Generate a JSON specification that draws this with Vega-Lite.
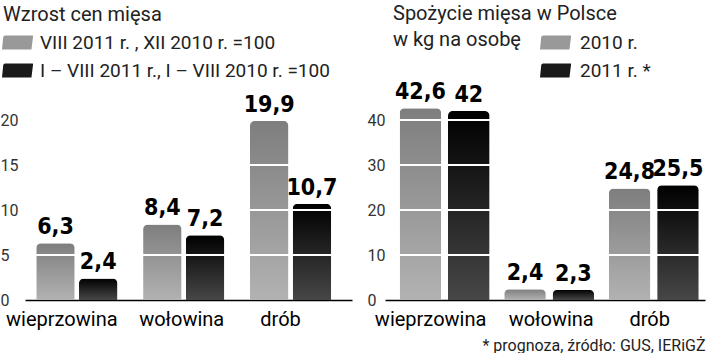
{
  "$schema": "https://vega.github.io/schema/vega-lite/v6.json",
  "padding": {"top": 4, "left": 0, "right": 0, "bottom": 0},
  "spacing": 33,
  "bounds": "flush",
  "config": {
    "view": {"stroke": null},
    "font": "Roboto",
    "locale": {"number": {"decimal": ",", "thousands": " ", "grouping": [3], "currency": ["", " zł"]}}
  },
  "resolve": {"scale": {"color": "independent", "y": "independent", "x": "independent", "xOffset": "independent"}, "legend": {"color": "independent"}},
  "hconcat": [
    {
      "width": 327,
      "height": 180,
      "title": {"text": "Wzrost cen mięsa", "anchor": "start", "frame": "group", "dx": -22, "offset": 2, "fontSize": 20, "fontWeight": "normal", "color": "#222", "font": "Roboto"},
      "data": {"values": [
        {"cat": "wieprzowina", "series": "VIII 2011 r. , XII 2010 r. =100", "v": 6.3},
        {"cat": "wieprzowina", "series": "I – VIII 2011 r., I – VIII 2010 r. =100", "v": 2.4},
        {"cat": "wołowina", "series": "VIII 2011 r. , XII 2010 r. =100", "v": 8.4},
        {"cat": "wołowina", "series": "I – VIII 2011 r., I – VIII 2010 r. =100", "v": 7.2},
        {"cat": "drób", "series": "VIII 2011 r. , XII 2010 r. =100", "v": 19.9},
        {"cat": "drób", "series": "I – VIII 2011 r., I – VIII 2010 r. =100", "v": 10.7}
      ]},
      "encoding": {
        "x": {"field": "cat", "type": "nominal", "sort": ["wieprzowina", "wołowina", "drób"],
          "scale": {"paddingInner": 0.24, "paddingOuter": 0.15, "align": 0.35},
          "axis": {"title": null, "labelAngle": 0, "labelFontSize": 20, "labelColor": "#000", "labelFont": "Roboto", "ticks": false, "domainColor": "#000", "domainWidth": 1.5, "labelPadding": 9,
            "labelOffset": {"condition": [{"test": "datum.value === 'wieprzowina'", "value": -15}, {"test": "datum.value === 'drób'", "value": -10}], "value": -2}}},
        "xOffset": {"field": "series", "type": "nominal", "sort": ["VIII 2011 r. , XII 2010 r. =100", "I – VIII 2011 r., I – VIII 2010 r. =100"], "scale": {"paddingInner": 0.1}},
        "y": {"field": "v", "type": "quantitative", "scale": {"domain": [0, 20], "nice": false},
          "axis": {"values": [0, 5, 10, 15, 20], "title": null, "domain": false, "ticks": false, "grid": false, "labelAlign": "left", "labelPadding": 25, "labelFontSize": 16, "labelColor": "#333", "labelFont": "Roboto"}}
      },
      "layer": [
        {
          "mark": {"type": "bar", "opacity": 0},
          "encoding": {
            "color": {"field": "series", "type": "nominal",
              "scale": {"domain": ["VIII 2011 r. , XII 2010 r. =100", "I – VIII 2011 r., I – VIII 2010 r. =100"], "range": ["#999999", "#1a1a1a"]},
              "legend": {"title": null, "orient": "none", "legendX": -23, "legendY": -93, "direction": "vertical", "symbolOpacity": 1,
                "symbolType": "M-0.88,-0.45 L0.98,-0.45 Q1.02,-0.45 1,-0.35 L0.9,0.45 L-1,0.45 L-0.92,-0.35 Q-0.9,-0.45 -0.8,-0.45 Z",
                "symbolSize": 961, "symbolStrokeWidth": 0, "labelFontSize": 19, "labelColor": "#222", "labelFont": "Roboto", "labelOffset": 7, "rowPadding": 2, "labelLimit": 400}}
          }
        },
        {
          "mark": {"type": "bar", "cornerRadiusTopLeft": 5, "cornerRadiusTopRight": 5},
          "encoding": {
            "fill": {"condition": {"test": "datum.series === 'VIII 2011 r. , XII 2010 r. =100'",
              "value": {"gradient": "linear", "x1": 0, "y1": 1, "x2": 0, "y2": 0, "stops": [{"offset": 0, "color": "#b2b2b2"}, {"offset": 1, "color": "#7e7e7e"}]}},
              "value": {"gradient": "linear", "x1": 0, "y1": 1, "x2": 0, "y2": 0, "stops": [{"offset": 0, "color": "#474747"}, {"offset": 1, "color": "#000000"}]}}
          }
        },
        {
          "data": {"values": [{"g": 5}, {"g": 10}, {"g": 15}, {"g": 20}]},
          "mark": {"type": "rule", "color": "#ffffff", "strokeWidth": 2},
          "encoding": {"y": {"field": "g", "type": "quantitative"}, "x": null, "xOffset": null}
        },
        {
          "mark": {"type": "text", "font": "Liberation Sans Narrow, DejaVu Sans Condensed", "fontWeight": "bold", "fontSize": 23, "dy": -9, "baseline": "alphabetic", "color": "#000"},
          "encoding": {"text": {"field": "v", "type": "quantitative", "format": "~g"}}
        }
      ]
    },
    {
      "width": 320,
      "height": 180,
      "title": {"text": ["Spożycie mięsa w Polsce", "w kg na osobę"], "anchor": "start", "frame": "group", "dx": 8, "offset": -23, "lineHeight": 26, "fontSize": 20, "fontWeight": "normal", "color": "#222", "font": "Roboto"},
      "data": {"values": [
        {"cat": "wieprzowina", "series": "2010 r.", "v": 42.6},
        {"cat": "wieprzowina", "series": "2011 r. *", "v": 42},
        {"cat": "wołowina", "series": "2010 r.", "v": 2.4},
        {"cat": "wołowina", "series": "2011 r. *", "v": 2.3},
        {"cat": "drób", "series": "2010 r.", "v": 24.8},
        {"cat": "drób", "series": "2011 r. *", "v": 25.5}
      ]},
      "encoding": {
        "x": {"field": "cat", "type": "nominal", "sort": ["wieprzowina", "wołowina", "drób"],
          "scale": {"paddingInner": 0.14, "paddingOuter": 0.1, "align": 0.7},
          "axis": {"title": "* prognoza, źródło: GUS, IERiGŻ", "titleAnchor": "end", "titleFontSize": 16, "titleFontWeight": "normal", "titleColor": "#222", "titleFont": "Roboto", "titlePadding": 8,
            "labelAngle": 0, "labelFontSize": 20, "labelColor": "#000", "labelFont": "Roboto", "ticks": false, "domainColor": "#000", "domainWidth": 1.5, "labelPadding": 9,
            "labelOffset": {"condition": [{"test": "datum.value === 'wieprzowina'", "value": -14}, {"test": "datum.value === 'drób'", "value": -4}], "value": 2}}},
        "xOffset": {"field": "series", "type": "nominal", "sort": ["2010 r.", "2011 r. *"], "scale": {"paddingInner": 0.14}},
        "y": {"field": "v", "type": "quantitative", "scale": {"domain": [0, 40], "nice": false},
          "axis": {"values": [0, 10, 20, 30, 40], "title": null, "domain": false, "ticks": false, "grid": false, "labelAlign": "left", "labelPadding": 18, "labelFontSize": 16, "labelColor": "#333", "labelFont": "Roboto"}}
      },
      "layer": [
        {
          "mark": {"type": "bar", "opacity": 0},
          "encoding": {
            "color": {"field": "series", "type": "nominal",
              "scale": {"domain": ["2010 r.", "2011 r. *"], "range": ["#999999", "#1a1a1a"]},
              "legend": {"title": null, "orient": "none", "legendX": 155, "legendY": -93, "direction": "vertical", "symbolOpacity": 1,
                "symbolType": "M-0.88,-0.45 L0.98,-0.45 Q1.02,-0.45 1,-0.35 L0.9,0.45 L-1,0.45 L-0.92,-0.35 Q-0.9,-0.45 -0.8,-0.45 Z",
                "symbolSize": 961, "symbolStrokeWidth": 0, "labelFontSize": 19, "labelColor": "#222", "labelFont": "Roboto", "labelOffset": 9, "rowPadding": 2}}
          }
        },
        {
          "mark": {"type": "bar", "cornerRadiusTopLeft": 5, "cornerRadiusTopRight": 5},
          "encoding": {
            "fill": {"condition": {"test": "datum.series === '2010 r.'",
              "value": {"gradient": "linear", "x1": 0, "y1": 1, "x2": 0, "y2": 0, "stops": [{"offset": 0, "color": "#b2b2b2"}, {"offset": 1, "color": "#7e7e7e"}]}},
              "value": {"gradient": "linear", "x1": 0, "y1": 1, "x2": 0, "y2": 0, "stops": [{"offset": 0, "color": "#474747"}, {"offset": 1, "color": "#000000"}]}}
          }
        },
        {
          "data": {"values": [{"g": 10}, {"g": 20}, {"g": 30}, {"g": 40}]},
          "mark": {"type": "rule", "color": "#ffffff", "strokeWidth": 2},
          "encoding": {"y": {"field": "g", "type": "quantitative"}, "x": null, "xOffset": null}
        },
        {
          "mark": {"type": "text", "font": "Liberation Sans Narrow, DejaVu Sans Condensed", "fontWeight": "bold", "fontSize": 23, "dy": -9, "baseline": "alphabetic", "color": "#000"},
          "encoding": {"text": {"field": "v", "type": "quantitative", "format": "~g"}}
        }
      ]
    }
  ]
}
